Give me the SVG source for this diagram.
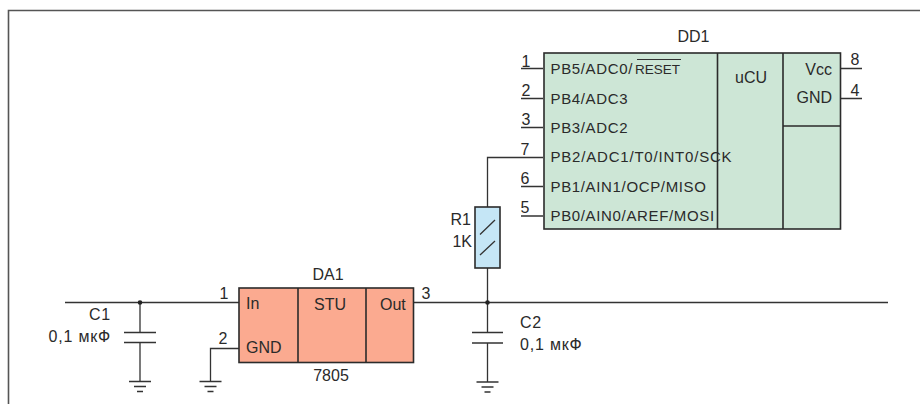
<svg xmlns="http://www.w3.org/2000/svg" width="920" height="404" viewBox="0 0 920 404">
<defs>
<style>
text{font-family:"Liberation Sans",Arial,sans-serif;font-size:16px;fill:#2a2a2a}
.p{font-size:15px;letter-spacing:.65px}
.q{letter-spacing:.8px}
.c{letter-spacing:.8px}
.m{text-anchor:middle}
.b{stroke:#2b2b2b;stroke-width:1.6;fill:none}
.w{stroke:#333;stroke-width:1.3;fill:none}
.g{fill:#cde6d6}
.o{fill:#fbaa90}
</style>
<g id="gnd"><path class="w" d="M-11 0H11M-6 5H6M-3 10H3"/></g>
</defs>
<rect width="920" height="404" fill="#fff"/>
<path d="M920 10.500H8.500V404" fill="none" stroke="#555" stroke-width="1.600"/>
<g id="connectors">
<path class="w" d="M65 302.500H239M140 302.500V332M140 342V381M239 348.500H210.500V381M413 302.500H888M487.500 302.500V268M487.500 207V157.500H543M487.500 302.500V332.500M487.500 343V382M124 332.500H156M124 342.500H156M472 332.500H503M472 343H503"/>
<path class="w" d="M521 68.500H543M521 98.500H543M521 127.500H543M521 186.500H543M521 216H543M840 68.500H862M840 98.500H862"/>
<circle cx="140" cy="302.500" r="2.300" fill="#222"/>
<circle cx="487.500" cy="302.500" r="2.300" fill="#222"/>
<use href="#gnd" x="140" y="381.500"/>
<use href="#gnd" x="210.500" y="381.500"/>
<use href="#gnd" x="487.500" y="382"/>
</g>
<g id="DD1">
<rect class="g b" x="544" y="53" width="296.500" height="176"/>
<path class="b" d="M717.500 53V229M783 53V229M783 126H840.500"/>
<text class="m" x="693.500" y="42">DD1</text>
<text class="p" x="550.500" y="74">PB5/ADC0/<tspan dx="2" font-size="13.500" letter-spacing="0">RESET</tspan></text>
<path d="M637 59.500H681" stroke="#333" stroke-width="1"/>
<text class="p" x="550.500" y="104">PB4/ADC3</text>
<text class="p" x="550.500" y="133">PB3/ADC2</text>
<text class="p q" x="550.500" y="162">PB2/ADC1/T0/INT0/SCK</text>
<text class="p" x="550.500" y="192">PB1/AIN1/OCP/MISO</text>
<text class="p" x="550.500" y="221">PB0/AIN0/AREF/MOSI</text>
<text x="735" y="83">uCU</text>
<text x="832" y="75" text-anchor="end">Vcc</text>
<text x="832" y="103" text-anchor="end">GND</text>
<text x="526" y="67" class="m">1</text>
<text x="526" y="96" class="m">2</text>
<text x="526" y="125" class="m">3</text>
<text x="525" y="155" class="m">7</text>
<text x="525" y="184" class="m">6</text>
<text x="525" y="213" class="m">5</text>
<text x="855" y="65" class="m">8</text>
<text x="855" y="96" class="m">4</text>
</g>
<g id="DA1">
<rect class="o b" x="239" y="288" width="174.500" height="74.500"/>
<path class="b" d="M298 288V362.500M366 288V362.500"/>
<text class="m" x="328" y="280">DA1</text>
<text x="246" y="309">In</text>
<text x="246" y="353">GND</text>
<text class="m" x="330" y="310">STU</text>
<text x="380" y="310">Out</text>
<text class="m" x="331" y="381">7805</text>
<text x="224" y="299" class="m">1</text>
<text x="223" y="344" class="m">2</text>
<text x="426" y="299" class="m">3</text>
</g>
<g id="R1">
<rect x="475" y="207" width="25" height="61" fill="#c5e6f6" stroke="#2b2b2b" stroke-width="1.600"/>
<path class="w" d="M480 234.500L495 220M480 255L495 241"/>
<text x="471" y="225" text-anchor="end">R1</text>
<text x="472" y="247" text-anchor="end">1K</text>
</g>
<g id="C1">
<text x="111" y="320" text-anchor="end" class="c">C1</text>
<text x="111" y="342" text-anchor="end" class="c">0,1 мкФ</text>
</g>
<g id="C2">
<text x="520" y="328" class="c">C2</text>
<text x="520" y="350" class="c">0,1 мкФ</text>
</g>
</svg>
